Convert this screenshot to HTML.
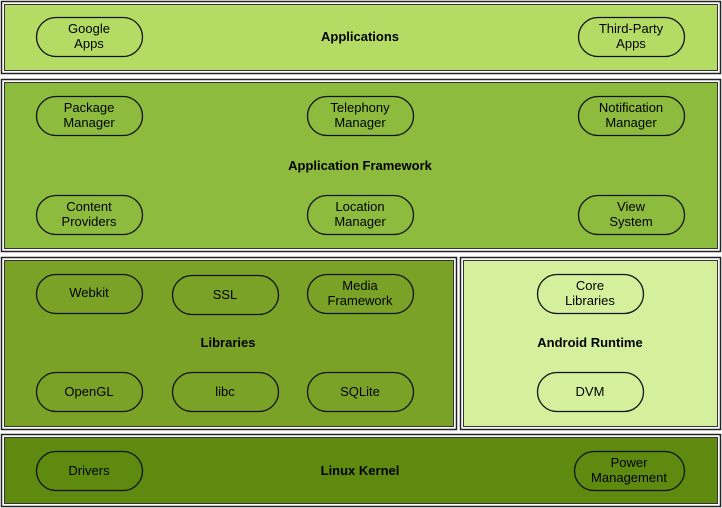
<!DOCTYPE html>
<html><head><meta charset="utf-8"><style>
html,body{margin:0;padding:0;background:#fff;width:722px;height:508px;overflow:hidden}
svg{display:block}
text{font-family:"Liberation Sans",sans-serif;font-size:13px;fill:#000;text-anchor:middle}
.b{font-weight:bold}
.p{stroke:#111;stroke-width:1.3}
</style></head><body>
<svg width="722" height="508" viewBox="0 0 722 508">
<!-- Applications -->
<rect x="1.5" y="1.5" width="719" height="72" fill="#fff" stroke="#222" stroke-width="1.5"/>
<rect x="4.5" y="4.5" width="713" height="66" fill="#b4dc64" stroke="#333"/>
<!-- Framework -->
<rect x="1.5" y="79.5" width="719" height="172" fill="#fff" stroke="#222" stroke-width="1.5"/>
<rect x="4.5" y="82.5" width="713" height="166" fill="#8dbb3e" stroke="#333"/>
<!-- Libraries -->
<rect x="1.5" y="257.5" width="455" height="172" fill="#fff" stroke="#222" stroke-width="1.5"/>
<rect x="4.5" y="260.5" width="449" height="166" fill="#7aa226" stroke="#333"/>
<!-- Runtime -->
<rect x="460.5" y="257.5" width="260" height="172" fill="#fff" stroke="#222" stroke-width="1.5"/>
<rect x="463.5" y="260.5" width="254" height="166" fill="#d4f09c" stroke="#333"/>
<!-- Kernel -->
<rect x="1.5" y="434.5" width="719" height="72" fill="#fff" stroke="#222" stroke-width="1.5"/>
<rect x="4.5" y="437.5" width="713" height="66" fill="#5e8a10" stroke="#333"/>

<g class="p">
<rect x="36.5" y="17.5" width="106" height="39" rx="19.5" fill="#b4dc64"/>
<rect x="578.5" y="17.5" width="106" height="39" rx="19.5" fill="#b4dc64"/>
<rect x="36.5" y="96.5" width="106" height="39" rx="19.5" fill="#8dbb3e"/>
<rect x="307.5" y="96.5" width="106" height="39" rx="19.5" fill="#8dbb3e"/>
<rect x="578.5" y="96.5" width="106" height="39" rx="19.5" fill="#8dbb3e"/>
<rect x="36.5" y="195.5" width="106" height="39" rx="19.5" fill="#8dbb3e"/>
<rect x="307.5" y="195.5" width="106" height="39" rx="19.5" fill="#8dbb3e"/>
<rect x="578.5" y="195.5" width="106" height="39" rx="19.5" fill="#8dbb3e"/>
<rect x="36.5" y="274.5" width="106" height="39" rx="19.5" fill="#7aa226"/>
<rect x="172.5" y="275.5" width="106" height="39" rx="19.5" fill="#7aa226"/>
<rect x="307.5" y="274.5" width="106" height="39" rx="19.5" fill="#7aa226"/>
<rect x="36.5" y="372.5" width="106" height="39" rx="19.5" fill="#7aa226"/>
<rect x="172.5" y="372.5" width="106" height="39" rx="19.5" fill="#7aa226"/>
<rect x="307.5" y="372.5" width="106" height="39" rx="19.5" fill="#7aa226"/>
<rect x="537.5" y="274.5" width="106" height="39" rx="19.5" fill="#d4f09c"/>
<rect x="537.5" y="372.5" width="106" height="39" rx="19.5" fill="#d4f09c"/>
<rect x="36.5" y="451.5" width="106" height="39" rx="19.5" fill="#5e8a10"/>
<rect x="574.5" y="451.5" width="110" height="39" rx="19.5" fill="#5e8a10"/>
</g>

<text class="b" x="360" y="41">Applications</text>
<text class="b" x="360" y="170">Application Framework</text>
<text class="b" x="228" y="347">Libraries</text>
<text class="b" x="590" y="347">Android Runtime</text>
<text class="b" x="360" y="475">Linux Kernel</text>

<text x="89" y="33">Google</text><text x="89" y="48">Apps</text>
<text x="631" y="33">Third-Party</text><text x="631" y="48">Apps</text>
<text x="89" y="112">Package</text><text x="89" y="127">Manager</text>
<text x="360" y="112">Telephony</text><text x="360" y="127">Manager</text>
<text x="631" y="112">Notification</text><text x="631" y="127">Manager</text>
<text x="89" y="211">Content</text><text x="89" y="226">Providers</text>
<text x="360" y="211">Location</text><text x="360" y="226">Manager</text>
<text x="631" y="211">View</text><text x="631" y="226">System</text>
<text x="89" y="297">Webkit</text>
<text x="225" y="299">SSL</text>
<text x="360" y="290">Media</text><text x="360" y="305">Framework</text>
<text x="89" y="396">OpenGL</text>
<text x="225" y="396">libc</text>
<text x="360" y="396">SQLite</text>
<text x="590" y="290">Core</text><text x="590" y="305">Libraries</text>
<text x="590" y="396">DVM</text>
<text x="89" y="475">Drivers</text>
<text x="629" y="467">Power</text><text x="629" y="482">Management</text>
</svg>
</body></html>
